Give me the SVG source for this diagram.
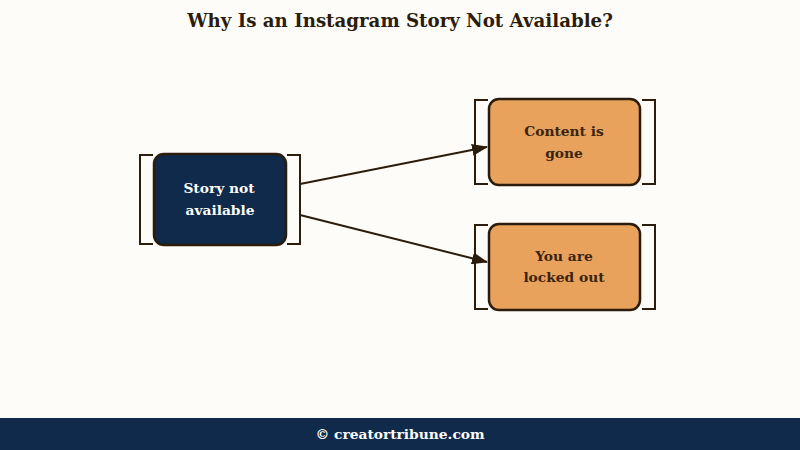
<svg xmlns="http://www.w3.org/2000/svg" width="800" height="450" viewBox="0 0 800 450">
<style>
.t{font-family:"DejaVu Serif","Liberation Serif",serif;font-weight:bold;text-anchor:middle}
.br{fill:none;stroke:#2b1c0c;stroke-width:2}
.nd{stroke:#2b1c0c;stroke-width:2.5}
.cn{stroke:#2b1c0c;stroke-width:2;fill:none}
</style>
<defs>
<marker id="ah" viewBox="0 0 16 12" refX="15" refY="6" markerWidth="16" markerHeight="12" orient="auto" markerUnits="userSpaceOnUse">
<path d="M0,0 L16,6 L0,12 z" fill="#2b1c0c"/>
</marker>
</defs>
<rect width="800" height="450" fill="#fefcf8"/>
<text class="t" x="400" y="27" font-size="18.2" fill="#2b1c0c">Why Is an Instagram Story Not Available?</text>
<g id="connectors">
<line class="cn" x1="300" y1="184" x2="487" y2="147" marker-end="url(#ah)"/>
<line class="cn" x1="300" y1="215" x2="487" y2="262" marker-end="url(#ah)"/>
</g>
<g id="node-story">
<path class="br" d="M153,155 H140 V244 H153 M287,155 H300 V244 H287"/>
<rect class="nd" x="154" y="154" width="132" height="91" rx="10" fill="#0f2a4a"/>
<text class="t" x="219" y="193" font-size="13.8" fill="#ffffff">Story not</text>
<text class="t" x="220" y="215" font-size="13.8" fill="#ffffff">available</text>
</g>
<g id="node-content">
<path class="br" d="M488,100 H475 V184 H488 M642,100 H655 V184 H642"/>
<rect class="nd" x="489" y="99" width="151" height="86" rx="10" fill="#e8a25c"/>
<text class="t" x="564" y="136" font-size="13.8" fill="#3a240f">Content is</text>
<text class="t" x="564" y="158" font-size="13.8" fill="#3a240f">gone</text>
</g>
<g id="node-locked">
<path class="br" d="M488,225 H475 V309 H488 M642,225 H655 V309 H642"/>
<rect class="nd" x="489" y="224" width="151" height="86" rx="10" fill="#e8a25c"/>
<text class="t" x="564" y="261" font-size="13.8" fill="#3a240f">You are</text>
<text class="t" x="564" y="282" font-size="13.8" fill="#3a240f">locked out</text>
</g>
<rect x="0" y="418" width="800" height="32" fill="#0f2a4a"/>
<text class="t" x="400" y="439" font-size="13.8" fill="#ffffff">© creatortribune.com</text>
</svg>
